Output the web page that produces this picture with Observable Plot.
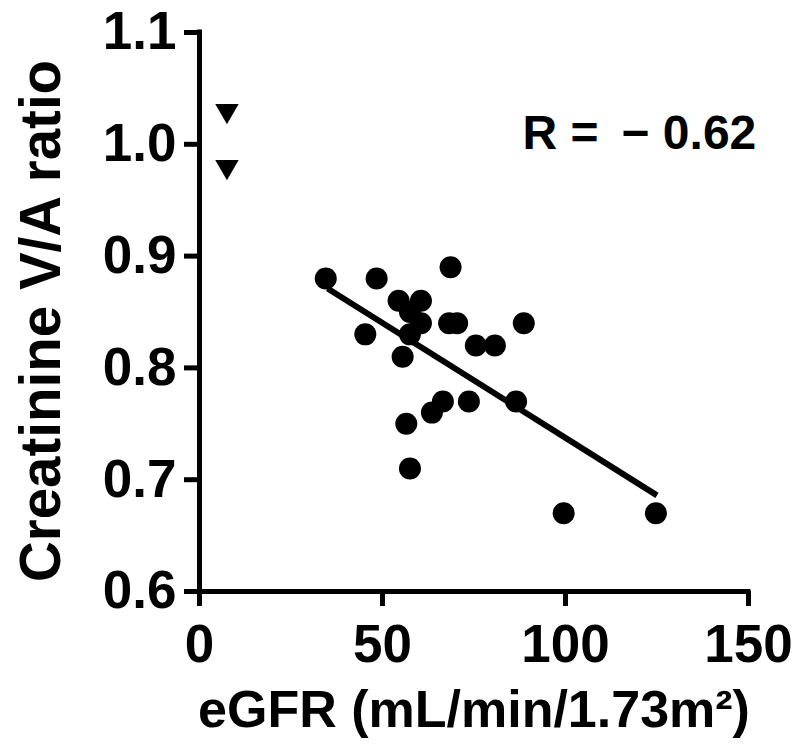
<!DOCTYPE html>
<html>
<head>
<meta charset="utf-8">
<script src="https://cdn.jsdelivr.net/npm/d3@7"></script>
<script src="https://cdn.jsdelivr.net/npm/@observablehq/plot@0.6"></script>
<style>
  html, body { margin: 0; padding: 0; background: #fff; }
  #chart svg { display: block; }
</style>
</head>
<body>
<div id="chart"></div>
<script>
// Circles: eGFR vs creatinine V/A ratio
const circleX = [34.5, 48.4, 45.3, 68.6, 54.4, 60.5, 57.5, 60.5, 57.5, 55.5, 68.2, 70.4, 88.6, 75.5, 80.7, 66.5, 63.5, 73.6, 86.5, 56.5, 57.5, 99.5, 124.7];
const circleY = [0.88, 0.88, 0.83, 0.89, 0.86, 0.86, 0.85, 0.84, 0.83, 0.81, 0.84, 0.84, 0.84, 0.82, 0.82, 0.77, 0.76, 0.77, 0.77, 0.75, 0.71, 0.67, 0.67];
// Down-triangles near the y axis
const triX = [7.5, 7.5];
const triY = [1.03, 0.98];
// Regression line end points
const lineX = [35, 125];
const lineY = [0.871, 0.686];
// Axes
const xTicks = [0, 50, 100, 150];
const yTicks = [0.6, 0.7, 0.8, 0.9, 1.0, 1.1];
const xDomain = [0, 150];
const yDomain = [0.6, 1.1];
const xTitle = "eGFR (mL/min/1.73m\u00B2)";
const yTitle = "Creatinine V/A ratio";
const rText = "R = \u2009\u2212 0.62";

const circles = circleX.map((x, i) => ({x, y: circleY[i]}));
const tris = triX.map((x, i) => ({x, y: triY[i]}));
const fit = lineX.map((x, i) => ({x, y: lineY[i]}));

const FONT = "'Liberation Sans', Arial, sans-serif";

const chart = Plot.plot({
  width: 800,
  height: 751,
  marginLeft: 199,
  marginRight: 52,
  marginTop: 32,
  marginBottom: 160,
  style: {fontFamily: FONT, fontWeight: "bold", color: "#000", background: "#fff", overflow: "visible"},
  x: {domain: xDomain},
  y: {domain: yDomain},
  marks: [
    Plot.axisX({ticks: xTicks, tickSize: 15, tickPadding: 18, strokeWidth: 5, fontSize: 53, fontWeight: "bold", tickFormat: d3.format("d"), label: null}),
    Plot.axisY({ticks: yTicks, tickSize: 15, tickPadding: 8, strokeWidth: 5, fontSize: 53, fontWeight: "bold", tickFormat: d3.format(".1f"), label: null}),
    Plot.ruleY([yDomain[0]], {x1: xDomain[0], x2: xDomain[1], stroke: "#000", strokeWidth: 5, strokeLinecap: "square"}),
    Plot.ruleX([xDomain[0]], {y1: yDomain[0], y2: yDomain[1], stroke: "#000", strokeWidth: 5, strokeLinecap: "square"}),
    Plot.line(fit, {x: "x", y: "y", stroke: "#000", strokeWidth: 6, strokeLinecap: "butt"}),
    Plot.dot(circles, {x: "x", y: "y", r: 11, fill: "#000", stroke: "none"}),
    Plot.dot(tris, {x: "x", y: "y", r: 8.7, symbol: "triangle", rotate: 180, fill: "#000", stroke: "none"}),
    Plot.text([xTitle], {frameAnchor: "bottom", dy: 119, lineAnchor: "middle", fontSize: 52, fontWeight: "bold", fill: "#000"}),
    Plot.text([yTitle], {frameAnchor: "left", dx: -158, dy: 9, rotate: -90, lineAnchor: "middle", textAnchor: "middle", fontSize: 56.5, fontWeight: "bold", fill: "#000"}),
    Plot.text([rText], {frameAnchor: "top-left", dx: 323, dy: 82, lineAnchor: "top", textAnchor: "start", fontSize: 48, fontWeight: "bold", fill: "#000"})
  ]
});
document.getElementById("chart").appendChild(chart);
</script>
</body>
</html>
